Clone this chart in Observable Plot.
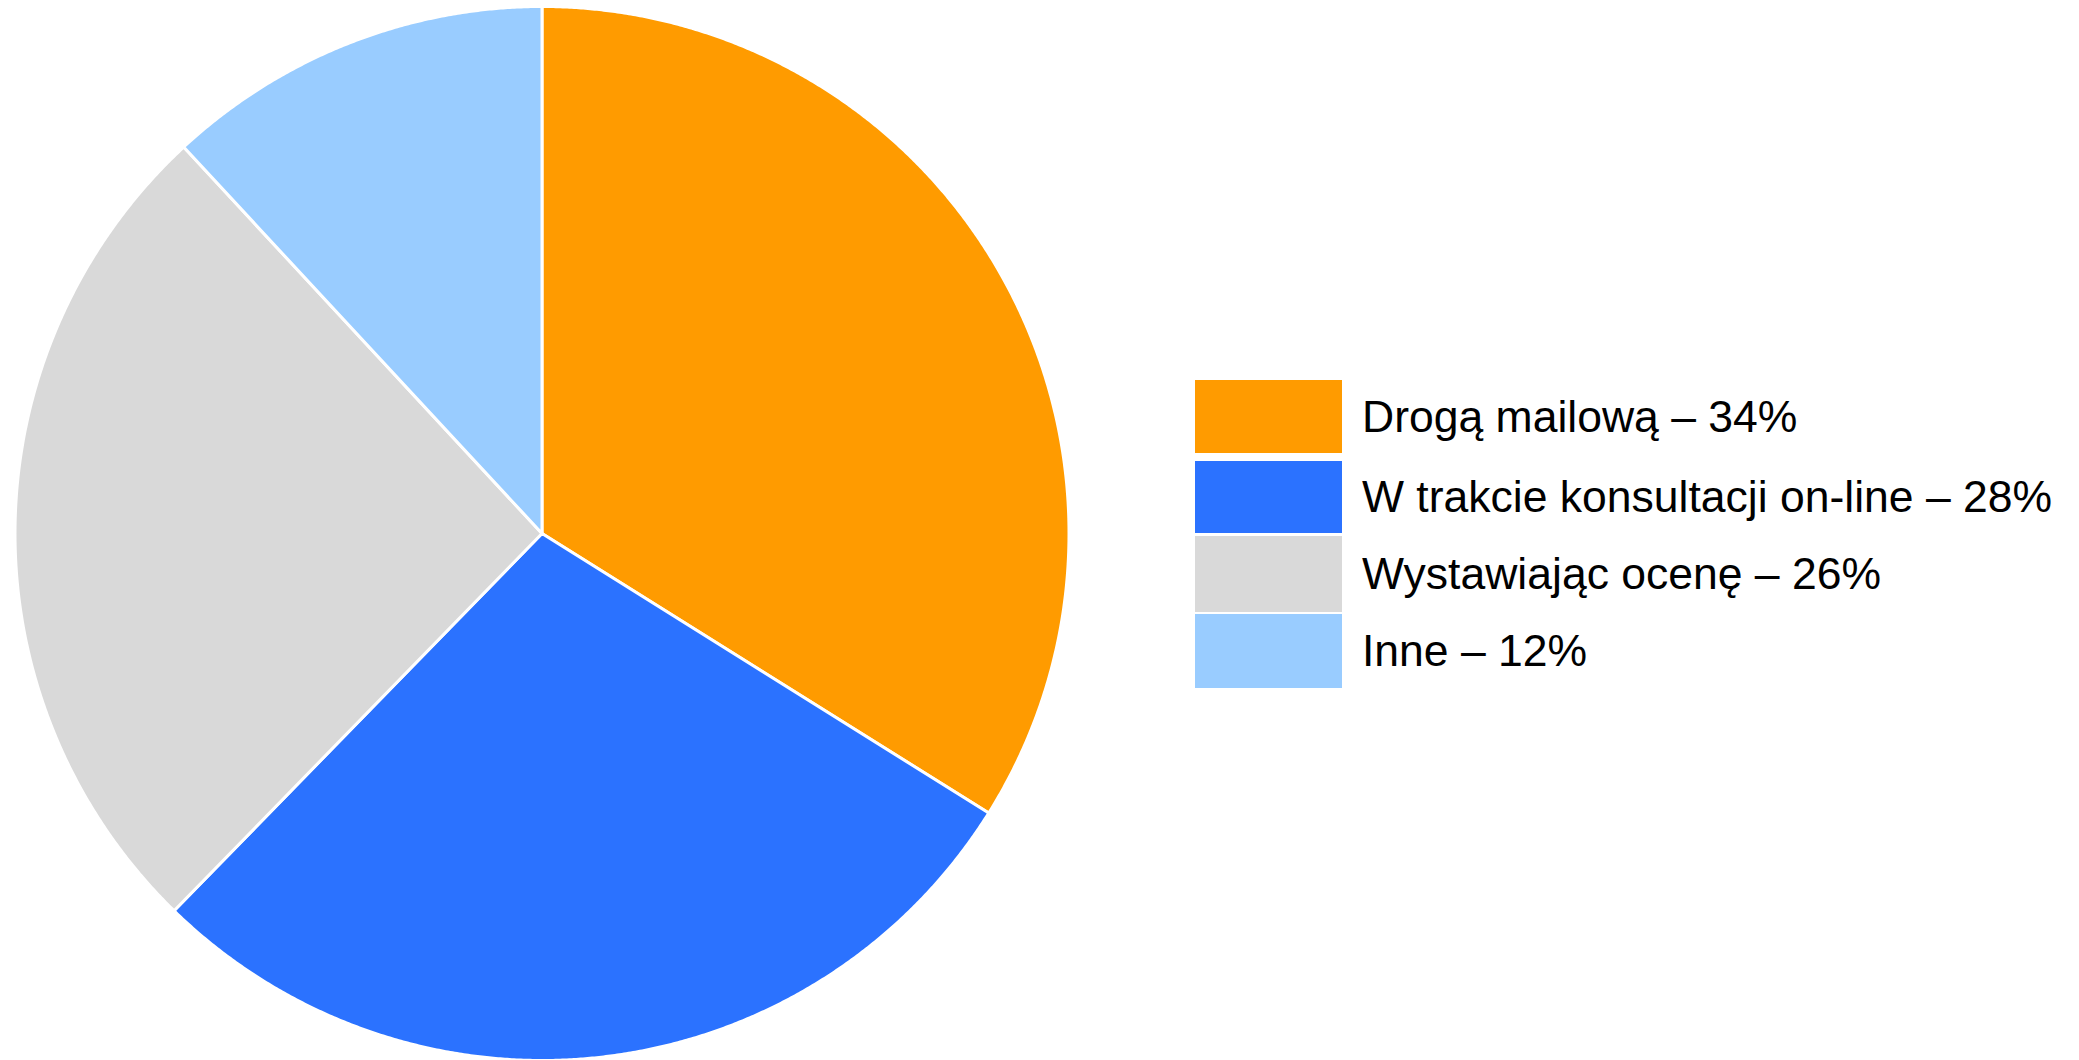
<!DOCTYPE html>
<html>
<head>
<meta charset="utf-8">
<script src="https://cdn.jsdelivr.net/npm/d3@7"></script>
<script src="https://cdn.jsdelivr.net/npm/@observablehq/plot@0.6"></script>
<style>
  html, body { margin: 0; padding: 0; background: #fff; }
  #wrap { position: relative; width: 2079px; height: 1060px; overflow: hidden; }
  #chart { position: absolute; left: 0; top: 0; }
  #legend { position: absolute; left: 1195px; top: 0; font-family: "Liberation Sans", Arial, sans-serif; font-size: 44.5px; color: #000; }
  .row { position: absolute; left: 0; display: flex; align-items: center; }
  .sw { width: 147px; flex: none; align-self: stretch; }
  .lab { margin-left: 20px; white-space: nowrap; }
</style>
</head>
<body>
<div id="wrap"><div id="chart"></div><div id="legend"></div></div>
<script>
const categories = ["Drogą mailową", "W trakcie konsultacji on-line", "Wystawiając ocenę", "Inne"];
const values = [33.9, 28.4, 25.8, 11.9];
const labels = ["34%", "28%", "26%", "12%"];
const colors = ["#ff9b00", "#2b72ff", "#d9d9d9", "#99ccff"];

const arcs = d3.pie().sort(null).value(d => d)(values);
const points = [];
arcs.forEach((a, i) => {
  const cat = categories[i];
  points.push({category: cat, x: 0, y: 0});
  const n = Math.max(2, Math.ceil((a.endAngle - a.startAngle) / (Math.PI / 720)));
  for (let k = 0; k <= n; k++) {
    const t = a.startAngle + (a.endAngle - a.startAngle) * k / n;
    points.push({category: cat, x: Math.sin(t), y: Math.cos(t)});
  }
  points.push({category: cat, x: 0, y: 0});
});

const plot = Plot.plot({
  width: 2079,
  height: 1060,
  margin: 0,
  x: {domain: [-1, 1], range: [14.5, 1068.5], axis: null},
  y: {domain: [-1, 1], range: [1060, 6], axis: null},
  color: {domain: categories, range: colors},
  marks: [
    Plot.line(points, {x: "x", y: "y", z: "category", fill: "category", stroke: "white", strokeWidth: 3, strokeLinejoin: "round", curve: "linear"})
  ]
});
document.getElementById("chart").appendChild(plot);

// legend layout (row top / height in px)
const rowLayout = [[380, 73], [461, 72], [536, 76], [614, 74]];
const legend = d3.select("#legend");
categories.forEach((c, i) => {
  const row = legend.append("div").attr("class", "row")
    .style("top", rowLayout[i][0] + "px").style("height", rowLayout[i][1] + "px");
  row.append("div").attr("class", "sw").style("background", colors[i]);
  row.append("div").attr("class", "lab").text(`${c} – ${labels[i]}`);
});
</script>
</body>
</html>
